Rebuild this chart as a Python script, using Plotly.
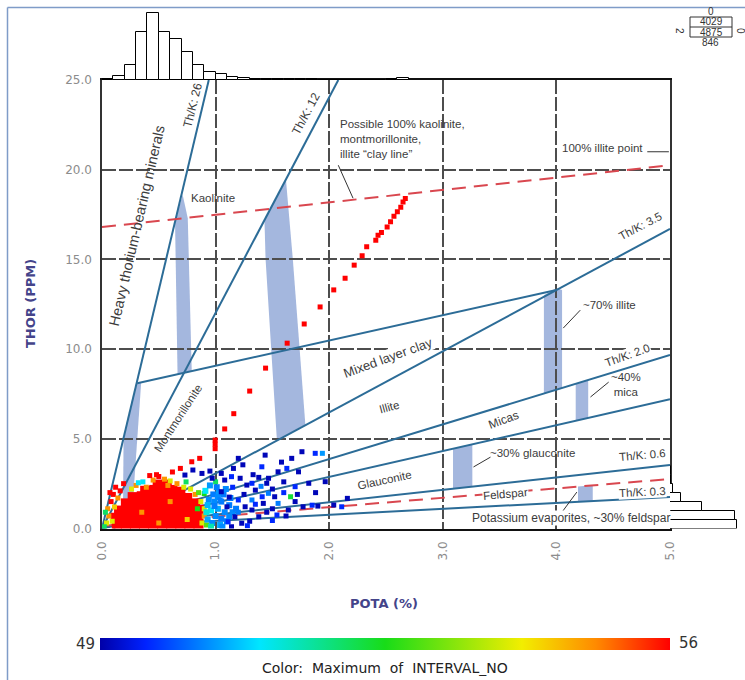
import plotly.graph_objects as go

W, H = 745, 680


def px_x(p):
    return p / W


def px_y(p):
    return 1 - p / H


# ---------------- data ----------------
# marginal histogram of POTA (bins of 0.1 %)
pota_bin_centers = [0.05, 0.15, 0.25, 0.35, 0.45, 0.55, 0.65, 0.75, 0.85, 0.95,
                    1.05, 1.15, 1.25, 1.35, 1.45, 1.55, 1.65, 1.75, 1.85, 1.95,
                    2.05, 2.15, 2.25, 2.35, 2.45, 2.55, 2.65]
pota_counts = [4, 14, 53, 168, 238, 168, 144, 98, 53, 27,
               21, 12, 8, 5, 4, 3, 2, 2, 2, 1, 1, 1, 1, 1, 1, 2, 8]

# marginal histogram of THOR (bins of 0.5 ppm)
thor_bin_centers = [0.25, 0.75, 1.25, 1.75, 2.25, 2.75, 3.25]
thor_counts = [236, 229, 113, 39, 11, 4, 4]

# dense core of samples (interval 56)
blob_x = [0.13, 0.21, 0.29, 0.37, 0.45, 0.53, 0.61, 0.69, 0.77, 0.85,
          0.12, 0.20, 0.28, 0.36, 0.44, 0.52, 0.60, 0.68, 0.76, 0.84,
          0.15, 0.23, 0.31, 0.39, 0.47, 0.55, 0.63, 0.71, 0.79, 0.85,
          0.21, 0.29, 0.37, 0.45, 0.53, 0.61, 0.69, 0.77, 0.82,
          0.27, 0.35, 0.43, 0.51, 0.59, 0.67, 0.75,
          0.38, 0.46, 0.54, 0.62, 0.69,
          0.49, 0.57]
blob_y = [0.2, 0.25, 0.2, 0.2, 0.2, 0.2, 0.2, 0.2, 0.2, 0.25,
          0.6, 0.6, 0.6, 0.6, 0.6, 0.6, 0.6, 0.6, 0.6, 0.65,
          1.0, 1.0, 1.0, 1.0, 1.0, 1.0, 1.0, 1.0, 1.0, 1.05,
          1.4, 1.4, 1.4, 1.4, 1.4, 1.4, 1.4, 1.35, 1.4,
          1.75, 1.8, 1.8, 1.8, 1.8, 1.75, 1.7,
          2.1, 2.15, 2.2, 2.15, 2.05,
          2.45, 2.45]

# scattered samples: (POTA, THOR, INTERVAL_NO)
fringe_pts = [
    (0.04, 0.3, 54), (0.06, 0.7, 55), (0.05, 1.1, 55), (0.08, 1.5, 56), (0.10, 1.9, 56),
    (0.12, 2.3, 56), (0.03, 0.9, 52), (0.09, 0.4, 54), (0.11, 1.2, 54.5), (0.14, 1.7, 55),
    (0.19, 2.5, 56), (0.02, 0.1, 52), (0.07, 2.0, 56), (0.16, 2.1, 56),
    (0.30, 2.4, 55), (0.36, 2.6, 51), (0.32, 2.55, 51), (0.45, 2.7, 55), (0.50, 2.9, 56),
    (0.55, 2.75, 55), (0.60, 2.65, 54), (0.48, 3.0, 56), (0.42, 2.95, 56), (0.62, 3.15, 56),
    (0.69, 3.35, 56), (0.79, 3.72, 56), (0.86, 3.91, 56), (0.66, 2.5, 55), (0.72, 2.3, 54),
    (0.58, 2.4, 55), (0.39, 2.3, 55), (0.26, 2.2, 54),
    (0.88, 0.3, 54), (0.90, 0.7, 55), (0.90, 1.1, 54), (0.87, 1.5, 54), (0.82, 1.9, 55),
    (0.78, 2.2, 54), (0.92, 0.2, 53), (0.93, 1.3, 52.5), (0.85, 2.0, 53), (0.74, 2.6, 52),
    (0.90, 1.95, 52.5), (1.66, 1.77, 52.3), (1.00, 2.6, 52), (0.84, 1.1, 52.5),
    (0.35, 0.9, 55), (0.60, 1.5, 55), (0.75, 0.5, 54.5), (0.50, 0.3, 55),
]

cyan_pts = [
    (0.93, 0.5, 50.5), (0.97, 0.3, 50.3), (1.00, 0.7, 50.3), (1.02, 1.1, 50.5), (0.96, 1.0, 51.0),
    (0.94, 1.6, 50.3), (0.99, 1.5, 50.3), (1.05, 1.5, 50.2), (1.08, 0.9, 50.3), (1.10, 0.4, 50.2),
    (1.04, 0.2, 50.5), (0.98, 1.9, 50.2), (1.03, 2.0, 50.4), (1.12, 1.3, 50.2), (0.91, 2.1, 51.0),
    (1.07, 1.9, 50.2), (1.15, 0.9, 50.3), (1.13, 1.7, 50.2), (0.95, 2.4, 50.4), (1.18, 1.1, 50.2),
    (1.01, 2.3, 50.2), (0.96, 0.1, 51.5), (1.06, 0.1, 50.3), (0.92, 0.9, 51.2), (1.09, 2.2, 50.3),
    (0.99, 1.25, 50.2), (1.05, 0.55, 50.2), (0.93, 1.3, 50.6), (1.12, 0.65, 50.3), (1.02, 1.75, 50.3),
]

blue_pts = [
    (1.157, 3.35, 49.1), (1.20, 3.91, 49.1), (1.436, 4.09, 49.1), (1.407, 3.44, 49.6),
    (1.466, 2.80, 49.1), (1.55, 3.16, 49.1), (1.627, 3.35, 49.6), (1.67, 3.91, 49.1),
    (1.76, 4.28, 49.1), (1.877, 4.19, 49.6), (1.94, 4.19, 50.4), (1.965, 2.61, 49.1),
    (2.04, 1.31, 49.1), (2.11, 1.21, 49.6), (1.77, 1.21, 49.1), (1.64, 1.03, 49.1),
    (1.54, 0.75, 49.6), (1.38, 0.66, 49.1), (1.32, 1.03, 49.1), (1.41, 1.77, 49.6),
    (1.465, 1.96, 50.2), (1.52, 1.77, 49.1), (1.35, 2.14, 49.1), (1.275, 2.42, 49.1),
    (1.216, 2.80, 49.1), (1.14, 2.89, 49.6), (1.08, 2.70, 49.1), (1.05, 3.07, 49.1),
    (0.97, 2.80, 49.1), (0.88, 3.07, 49.1), (0.80, 3.26, 49.1), (0.73, 2.98, 49.1),
    (1.20, 1.59, 49.6), (1.26, 1.21, 49.1), (1.17, 0.66, 49.1), (1.11, 0.38, 49.6),
    (1.23, 0.29, 49.1), (1.73, 3.16, 49.1), (1.82, 2.52, 49.1), (1.70, 2.33, 49.6),
    (1.45, 2.52, 49.1), (1.32, 2.52, 49.6), (1.05, 2.05, 49.1), (1.04, 1.59, 50.2),
    (1.10, 1.21, 49.1), (1.32, 1.59, 50.2), (1.42, 1.40, 49.1), (1.90, 1.25, 49.1),
    (2.16, 1.68, 49.1), (1.60, 2.00, 49.6), (1.55, 1.40, 50.2), (1.25, 1.90, 49.1),
    (1.15, 2.30, 49.6), (1.30, 0.40, 49.1), (1.45, 0.90, 49.1), (1.20, 0.90, 50.2),
    (1.50, 2.20, 49.1), (1.38, 2.85, 49.1), (0.95, 3.20, 49.1), (1.14, 0.10, 49.1),
    (1.28, 0.15, 49.6), (1.35, 1.35, 49.6), (1.60, 2.60, 49.1), (1.70, 1.50, 49.1),
    (1.85, 1.30, 49.6), (1.50, 1.10, 49.1), (1.58, 3.70, 49.1), (1.33, 3.00, 49.1),
    (1.24, 3.55, 49.1), (1.50, 0.45, 49.6), (1.40, 2.35, 50.2), (1.12, 1.75, 49.1),
    (1.62, 0.70, 49.1), (1.72, 1.90, 49.1), (1.88, 2.00, 49.1),
]

# red trend of samples running up towards the clay line (interval 56)
trend_x = [0.996, 0.996, 0.996, 1.08, 1.16, 1.30, 1.44, 1.63, 1.78, 1.92, 2.04, 2.14,
           2.22, 2.29, 2.33, 2.41, 2.43, 2.46, 2.51, 2.54, 2.57, 2.60, 2.63, 2.65, 2.67]
trend_y = [4.45, 4.70, 4.93, 5.55, 6.40, 7.66, 8.94, 10.33, 11.40, 12.35, 13.30, 13.95,
           14.68, 15.20, 15.70, 16.07, 16.35, 16.50, 16.80, 17.10, 17.40, 17.65, 17.90, 18.20, 18.40]

# Th/K reference lines of the mineral chart (x = POTA %, y = THOR ppm)
thk26_x, thk26_y = [0.0, 0.94], [0.0, 25.0]
thk12_x, thk12_y = [0.0, 2.08], [0.0, 25.0]
thk35_x, thk35_y = [0.1, 5.0], [0.0, 16.7]
mixed_x, mixed_y = [0.31, 4.0], [8.1, 13.3]
thk20_x, thk20_y = [0.0, 5.0], [0.0, 9.67]
mica_x, mica_y = [0.0, 5.0], [0.0, 7.2]
thk06_x, thk06_y = [0.0, 5.0], [0.08, 3.54]
thk03_x, thk03_y = [0.0, 5.0], [0.1, 1.76]
clayline_x, clayline_y = [0.0, 5.0], [16.8, 20.25]
feldline_x, feldline_y = [0.0, 5.0], [0.14, 2.76]

# leader lines of the labels
leaders = [
    ([2.08, 2.21], [20.25, 18.41]),
    ([4.80, 4.99], [21.0, 21.0]),
    ([4.21, 4.06], [12.17, 11.17]),
    ([4.46, 4.30], [8.16, 7.33]),
    ([3.42, 3.27], [3.98, 3.43]),
    ([4.18, 4.05], [2.03, 0.92]),
]

# shaded mineral zones (polygons in POTA/THOR)
zone_montmorillonite = [(0.30, 8.1), (0.345, 8.15), (0.27, 1.3), (0.185, 1.3), (0.19, 5.0)]
zone_kaolinite_a = [(0.643, 17.1), (0.71, 18.6), (0.755, 17.3), (0.79, 8.79), (0.665, 8.61)]
zone_kaolinite_b = [(1.62, 19.4), (1.43, 17.2), (1.44, 15.0), (1.54, 4.9), (1.79, 5.8), (1.68, 15.0)]
zone_illite70 = [(3.89, 13.0), (4.0, 13.4), (4.05, 13.3), (4.05, 7.83), (3.89, 7.52)]
zone_mica40 = [(4.17, 8.07), (4.28, 8.28), (4.28, 6.16), (4.17, 6.0)]
zone_glauc30 = [(3.09, 4.45), (3.26, 4.69), (3.26, 2.33), (3.09, 2.21)]
zone_feldspar = [(4.19, 2.34), (4.32, 2.41), (4.32, 1.53), (4.19, 1.48)]

tick_vals_x = [0, 1, 2, 3, 4, 5]
tick_text_x = ["0.0", "1.0", "2.0", "3.0", "4.0", "5.0"]
tick_vals_y = [0, 5, 10, 15, 20, 25]
tick_text_y = ["0.0", "5.0", "10.0", "15.0", "20.0", "25.0"]

color_min, color_max = 49, 56

# ---------------- styles ----------------
LINE_BLUE = "#2c6c97"
ZONE_FILL = "#a4b7de"
RED_DASH = "#d9474f"
GRID = "#4d4d4d"
LABEL = "#3c3c3c"
TITLE_C = "#44448a"
FONT = "Liberation Sans"

colorscale = [[0.0, "#0000a8"], [0.08, "#0022ff"], [0.28, "#00e6ff"], [0.5, "#18dc18"],
              [0.74, "#f2ee00"], [0.87, "#ff8a00"], [1.0, "#ff0000"]]

# axes domains (pixel layout of the chart)
X_DOM = [px_x(102), px_x(670)]
Y_DOM = [px_y(528.5), px_y(80)]

fig = go.Figure()


def add_line(xs, ys, color=LINE_BLUE, width=2, dash="solid"):
    fig.add_trace(go.Scatter(x=xs, y=ys, mode="lines", hoverinfo="skip",
                             line=dict(color=color, width=width, dash=dash),
                             showlegend=False, xaxis="x", yaxis="y"))


for xs, ys in [(thk26_x, thk26_y), (thk12_x, thk12_y), (thk35_x, thk35_y), (mixed_x, mixed_y),
               (thk20_x, thk20_y), (mica_x, mica_y), (thk06_x, thk06_y), (thk03_x, thk03_y)]:
    add_line(xs, ys)
add_line(clayline_x, clayline_y, RED_DASH, 2, "14px,8px")
add_line(feldline_x, feldline_y, RED_DASH, 2, "14px,8px")
for xs, ys in leaders:
    add_line(xs, ys, "#333333", 1)


def add_pts(xs, ys, cs, size):
    fig.add_trace(go.Scatter(x=xs, y=ys, mode="markers", showlegend=False,
                             marker=dict(symbol="square", size=size, color=cs,
                                         coloraxis="coloraxis", line=dict(width=0)),
                             xaxis="x", yaxis="y"))


add_pts(blob_x, blob_y, [56] * len(blob_x), 10)
for group, size in [(fringe_pts, 5), (cyan_pts, 6), (blue_pts, 5)]:
    add_pts([p[0] for p in group], [p[1] for p in group], [p[2] for p in group], size)
add_pts(trend_x, trend_y, [56] * len(trend_x), 5)

# marginal histograms
fig.add_trace(go.Bar(x=pota_bin_centers, y=pota_counts, xaxis="x3", yaxis="y2",
                     marker=dict(color="white", line=dict(color="black", width=1)),
                     showlegend=False, hoverinfo="skip"))
fig.add_trace(go.Bar(y=thor_bin_centers, x=thor_counts, orientation="h", xaxis="x2", yaxis="y3",
                     marker=dict(color="white", line=dict(color="black", width=1)),
                     showlegend=False, hoverinfo="skip"))

# shaded zones (below grid)
shapes = []
for poly in [zone_montmorillonite, zone_kaolinite_a, zone_kaolinite_b, zone_illite70,
             zone_mica40, zone_glauc30, zone_feldspar]:
    path = "M " + " L ".join(f"{x},{y}" for x, y in poly) + " Z"
    shapes.append(dict(type="path", path=path, xref="x", yref="y", layer="below",
                       fillcolor=ZONE_FILL, line=dict(width=0)))

# picture frame
shapes.append(dict(type="line", xref="paper", yref="paper", x0=px_x(7.5), x1=1,
                   y0=px_y(7.5), y1=px_y(7.5), line=dict(color="#7f9cc8", width=1.5)))
shapes.append(dict(type="line", xref="paper", yref="paper", x0=px_x(7.5), x1=px_x(7.5),
                   y0=px_y(7.5), y1=0, line=dict(color="#7f9cc8", width=1.5)))
# count box
shapes.append(dict(type="rect", xref="paper", yref="paper", x0=px_x(690), x1=px_x(732),
                   y0=px_y(37), y1=px_y(17), line=dict(color="#333", width=1)))
shapes.append(dict(type="line", xref="paper", yref="paper", x0=px_x(690), x1=px_x(732),
                   y0=px_y(27), y1=px_y(27), line=dict(color="#333", width=1)))

ann = []


def label(x, y, text, angle=0, size=11.5, bg=None, **kw):
    d = dict(x=x, y=y, xref="x", yref="y", text=text, showarrow=False, textangle=angle,
             xanchor="center", yanchor="middle",
             font=dict(family=FONT, size=size, color=LABEL))
    if bg:
        d["bgcolor"] = bg
        d["borderpad"] = 0
    d.update(kw)
    ann.append(d)


label(0.31, 16.9, "Heavy thorium-bearing minerals", -77, 14.5)
label(0.80, 23.6, "Th/K: 26", -76, 12)
label(1.80, 23.15, "Th/K: 12", -62, 12)
label(0.98, 18.42, "Kaolinite")
label(2.08, 23.0, "Possible 100% kaolinite,<br>montmorillonite,<br>illite \u201cclay line\u201d",
      xanchor="left", yanchor="top", align="left")
label(4.41, 21.2, "100% illite point")
label(4.74, 16.86, "Th/K: 3.5", -28)
label(2.52, 9.55, "Mixed layer clay", -20, 13, bg="white")
label(2.53, 6.77, "Illite", -15)
label(3.53, 6.05, "Micas", -20, 12)
label(4.47, 12.46, "~70% illite")
label(4.63, 9.67, "Th/K: 2.0", -20, bg="white")
label(4.61, 8.0, "~40%<br>mica")
label(2.49, 2.7, "Glauconite", -12)
label(3.79, 4.21, "~30% glauconite")
label(4.76, 4.1, "Th/K: 0.6", -5)
label(3.55, 1.92, "Feldspar", -5, bg="white")
label(4.76, 2.03, "Th/K: 0.3", -3, bg="white")
label(4.13, 0.58, "Potassium evaporites, ~30% feldspar", 0, 12, bg="white")
label(0.67, 6.16, "Montmorillonite", -57)


def pann(x, y, text, size=12, color="#222", angle=0, bold=False, family="DejaVu Sans"):
    ann.append(dict(x=px_x(x), y=px_y(y), xref="paper", yref="paper", text=text,
                    showarrow=False, textangle=angle, xanchor="center", yanchor="middle",
                    font=dict(family=family, size=size, color=color,
                              weight="bold" if bold else "normal")))


pann(30, 303, "THOR (PPM)", 13, TITLE_C, -90, True)
pann(384, 603, "POTA (%)", 13, TITLE_C, 0, True)
pann(85, 644, str(color_min), 15, "#333")
pann(688, 643, str(color_max), 15, "#333")
pann(385, 668, "Color:  Maximum  of  INTERVAL_NO", 14, "#222")
pann(711, 22, "4029", 10, "#333", family=FONT)
pann(711, 32, "4875", 10, "#333", family=FONT)
pann(710, 42, "846", 10, "#333", family=FONT)
pann(679, 31, "2", 10, "#333", 90, family=FONT)
pann(740, 31, "0", 10, "#333", 90, family=FONT)
pann(711, 11, "0", 10, "#333", family=FONT)

tick_font = dict(family="DejaVu Sans", size=12, color="#8c8c8c")

fig.update_layout(
    width=W, height=H,
    margin=dict(l=0, r=0, t=0, b=0, autoexpand=False),
    paper_bgcolor="white", plot_bgcolor="white",
    showlegend=False, bargap=0,
    shapes=shapes, annotations=ann,
    xaxis=dict(domain=X_DOM, range=[0, 5], tickvals=tick_vals_x, ticktext=tick_text_x,
               tickangle=-90, tickfont=tick_font, ticks="", ticklabelstandoff=6,
               showgrid=True, gridcolor=GRID, gridwidth=1.5, griddash="14px,3px",
               showline=True, linecolor="#111", linewidth=2, mirror=True, zeroline=False,
               anchor="y", automargin=False),
    yaxis=dict(domain=Y_DOM, range=[0, 25], tickvals=tick_vals_y, ticktext=tick_text_y,
               tickfont=tick_font, ticks="", ticklabelstandoff=6,
               showgrid=True, gridcolor=GRID, gridwidth=1.5, griddash="14px,3px",
               showline=True, linecolor="#333", linewidth=1.5, mirror=True, zeroline=False,
               anchor="x", automargin=False),
    xaxis3=dict(domain=X_DOM, range=[0, 5], visible=False, anchor="y2"),
    yaxis2=dict(domain=[px_y(80), px_y(10)], range=[0, 247], visible=False, anchor="x3"),
    xaxis2=dict(domain=[px_x(670), px_x(740)], range=[0, 247], visible=False, anchor="y3"),
    yaxis3=dict(domain=Y_DOM, range=[0, 25], visible=False, anchor="x2"),
    coloraxis=dict(colorscale=colorscale, cmin=color_min, cmax=color_max,
                   colorbar=dict(orientation="h", x=px_x(385), xanchor="center",
                                 y=px_y(644), yanchor="middle", len=570 / W, lenmode="fraction",
                                 thickness=12, thicknessmode="pixels", showticklabels=False,
                                 ticks="", outlinewidth=0, xpad=0, ypad=0)),
)

fig.write_html("out.html", config={"displayModeBar": False},
               post_script="document.body.style.margin='0';document.body.style.overflow='hidden';")
